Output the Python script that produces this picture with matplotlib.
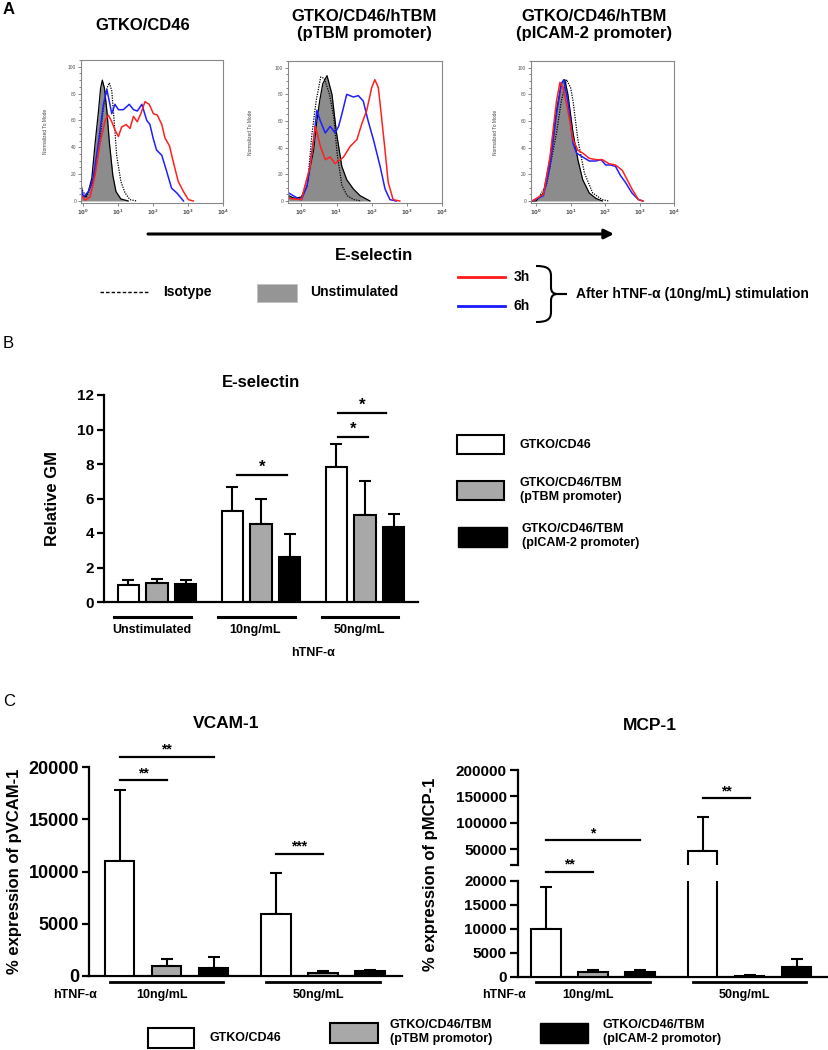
import numpy as np
import matplotlib
matplotlib.use("Agg")
import matplotlib.pyplot as plt
import matplotlib.transforms as mtransforms
from matplotlib.patches import Rectangle, PathPatch
from matplotlib.path import Path
from matplotlib.ticker import AutoMinorLocator

plt.rcParams['font.family'] = ['Liberation Sans', 'DejaVu Sans']
plt.rcParams['font.weight'] = 'bold'
plt.rcParams['axes.labelweight'] = 'bold'

# ---------------- panel A: flow histograms (log10 fluorescence, % of mode) ----------------
h1_unstim_lx = [-0.05, -0.01, 0.07, 0.16, 0.26, 0.35, 0.45, 0.51, 0.56, 0.62, 0.69, 0.76, 0.86, 0.95, 1.09, 1.3]
h1_unstim_y = [14, 4.5, 3, 7, 17, 42, 67, 84, 90, 84, 67, 44, 19, 7, 1.5, 0]
h1_iso_lx = [-0.05, 0.11, 0.3, 0.4, 0.5, 0.59, 0.69, 0.76, 0.83, 0.9, 0.97, 1.09, 1.21, 1.35, 1.54]
h1_iso_y = [9.5, 3, 14.5, 29, 47, 69, 84, 88, 82, 59, 34, 14.5, 6, 1, 0]
h1_6h_lx = [-0.05, 0.02, 0.16, 0.3, 0.45, 0.59, 0.69, 0.76, 0.83, 0.92, 1.02, 1.16, 1.33, 1.45, 1.56,
            1.69, 1.83, 1.92, 2.02, 2.11, 2.26, 2.4, 2.54, 2.69, 2.88]
h1_6h_y = [10.7, 3, 7, 17, 44, 72, 83, 74, 65, 72, 68, 68, 72, 68, 67, 72, 60, 57, 46, 38, 34, 22, 9.5, 6, 0]
h1_3h_lx = [-0.05, 0.07, 0.21, 0.35, 0.5, 0.64, 0.73, 0.83, 0.92, 1.02, 1.11, 1.24, 1.35, 1.45, 1.56, 1.66,
            1.78, 1.9, 2.02, 2.13, 2.26, 2.35, 2.48, 2.59, 2.73, 2.88, 3.02, 3.16]
h1_3h_y = [4.5, 0.5, 3, 19, 44, 60, 64, 59, 53, 48, 55, 57, 54, 63, 59, 65, 74, 72, 65, 64, 57, 47, 41, 29,
           14.5, 7, 1, 0]

h2_unstim_lx = [-0.36, -0.2, 0.0, 0.16, 0.25, 0.35, 0.44, 0.52, 0.61, 0.73, 0.87, 1.0, 1.15, 1.29, 1.48, 1.67, 1.81, 1.95]
h2_unstim_y = [4, 2, 3, 11, 25, 38, 60, 75, 88, 94, 80, 51, 26, 16, 9, 4, 2, 0]
h2_iso_lx = [-0.36, 0.0, 0.2, 0.3, 0.42, 0.55, 0.65, 0.8, 0.92, 1.02, 1.15, 1.3, 1.5, 1.7]
h2_iso_y = [2, 2, 20, 50, 75, 93, 92, 80, 63, 35, 12, 4, 1, 0]
h2_6h_lx = [-0.36, -0.1, 0.0, 0.16, 0.35, 0.44, 0.54, 0.68, 0.82, 0.96, 1.06, 1.15, 1.29, 1.48, 1.62, 1.76,
            1.9, 2.05, 2.24, 2.38, 2.52, 2.7]
h2_6h_y = [6, 2, 1, 11, 46, 68, 60, 51, 56, 51, 56, 65, 80, 78, 79, 75, 60, 46, 26, 9, 1, 0]
h2_3h_lx = [-0.36, 0.0, 0.25, 0.4, 0.54, 0.68, 0.82, 0.96, 1.2, 1.39, 1.58, 1.72, 1.86, 2.0, 2.09, 2.19, 2.28,
            2.38, 2.47, 2.61, 2.8]
h2_3h_y = [2, 1, 26, 56, 41, 31, 33, 28, 33, 41, 46, 58, 68, 85, 91, 85, 63, 38, 14, 1, 0]

h3_unstim_lx = [-0.15, 0.0, 0.21, 0.4, 0.59, 0.73, 0.83, 0.92, 1.07, 1.21, 1.35, 1.54, 1.73, 1.92]
h3_unstim_y = [0, 0, 6, 31, 68, 88, 91, 80, 51, 31, 16, 6, 2, 0]
h3_iso_lx = [0.0, 0.3, 0.59, 0.73, 0.88, 1.0, 1.07, 1.21, 1.4, 1.64, 1.92, 2.1]
h3_iso_y = [0, 12, 51, 75, 91, 85, 75, 46, 21, 6, 1, 0]
h3_6h_lx = [-0.12, 0.21, 0.4, 0.59, 0.73, 0.8, 0.92, 1.07, 1.17, 1.35, 1.54, 1.73, 1.88, 2.02, 2.16, 2.3,
            2.45, 2.59, 2.78, 2.97, 3.1]
h3_6h_y = [0, 4, 26, 65, 88, 91, 75, 43, 36, 33, 30, 30, 31, 27, 27, 26, 19, 14, 6, 1, 0]
h3_3h_lx = [-0.12, 0.21, 0.4, 0.59, 0.69, 0.78, 0.92, 1.07, 1.21, 1.35, 1.54, 1.73, 1.92, 2.11, 2.3, 2.5,
            2.64, 2.78, 2.97, 3.1]
h3_3h_y = [0, 5, 33, 75, 89, 85, 68, 46, 38, 36, 32, 31, 31, 28, 27, 23, 16, 9, 1, 0]

# ---------------- panel B: E-selectin relative GM ----------------
b_groups = ['Unstimulated', '10ng/mL', '50ng/mL']
b_cd46 = [1.0, 5.25, 7.84]
b_cd46_err = [0.29, 1.39, 1.33]
b_ptbm = [1.1, 4.52, 5.02]
b_ptbm_err = [0.23, 1.46, 2.01]
b_picam = [1.04, 2.59, 4.32]
b_picam_err = [0.25, 1.33, 0.78]

# ---------------- panel C: VCAM-1 and MCP-1 ----------------
c_groups = ['10ng/mL', '50ng/mL']
vcam_cd46 = [11000, 5890]
vcam_cd46_err = [6760, 4000]
vcam_ptbm = [930, 290]
vcam_ptbm_err = [730, 160]
vcam_picam = [800, 480]
vcam_picam_err = [1020, 130]

mcp_cd46 = [10000, 45600]
mcp_cd46_err = [8750, 66200]
mcp_ptbm = [1040, 200]
mcp_ptbm_err = [350, 200]
mcp_picam = [1040, 2080]
mcp_picam_err = [350, 1740]

bar_colors = ['white', '#a8a8a8', 'black']

W, H = 829, 1050
fig = plt.figure(figsize=(W / 100, H / 100), dpi=100)


def px_axes(l, t, r, b):
    return fig.add_axes([l / W, 1 - b / H, (r - l) / W, (b - t) / H])


# overlay in pixel coordinates for labels, legends and arrow
ov = fig.add_axes([0, 0, 1, 1])
ov.set_xlim(0, W)
ov.set_ylim(H, 0)
ov.axis('off')


def histo(ax, curves, xlo, xhi):
    (ulx, uy), (ilx, iy), (blx, by), (rlx, ry) = curves
    ux = 10 ** np.array(ulx)
    ax.fill_between(ux, uy, 0, color='#8c8c8c', lw=0)
    ax.plot(ux, uy, color='k', lw=0.9)
    ax.plot(10 ** np.array(ilx), iy, color='k', lw=0.9, ls=(0, (1, 1)))
    ax.plot(10 ** np.array(blx), by, color='#1f1fff', lw=1.1)
    ax.plot(10 ** np.array(rlx), ry, color='#ff2020', lw=1.1)
    ax.set_xscale('log')
    ax.set_xlim(10 ** xlo, 10 ** xhi)
    ax.set_ylim(-1.5, 105)
    ax.set_xticks([1, 10, 100, 1000, 10000],
                  ['$10^0$', '$10^1$', '$10^2$', '$10^3$', '$10^4$'], fontsize=4, fontweight='normal')
    ax.set_yticks([0, 20, 40, 60, 80, 100], ['0', '20', '40', '60', '80', '100'],
                  fontsize=3.5, fontweight='normal')
    ax.yaxis.set_minor_locator(AutoMinorLocator(4))
    ax.tick_params(which='both', direction='out', colors='#555555', width=0.5, pad=1)
    ax.tick_params(which='major', length=2.5)
    ax.tick_params(which='minor', length=1.2)
    for s in ax.spines.values():
        s.set_color('#888888')
        s.set_linewidth(0.8)
    ax.set_ylabel('Normalized To Mode', fontsize=3.5, fontweight='normal', color='#444444')
    ax.yaxis.set_label_coords(-0.23, 0.5)


a1 = px_axes(81, 60, 223, 203)
histo(a1, [(h1_unstim_lx, h1_unstim_y), (h1_iso_lx, h1_iso_y), (h1_6h_lx, h1_6h_y), (h1_3h_lx, h1_3h_y)], -0.05, 4.01)
a2 = px_axes(288, 61, 442, 203)
histo(a2, [(h2_unstim_lx, h2_unstim_y), (h2_iso_lx, h2_iso_y), (h2_6h_lx, h2_6h_y), (h2_3h_lx, h2_3h_y)], -0.38, 3.98)
a3 = px_axes(531, 61, 674, 203)
histo(a3, [(h3_unstim_lx, h3_unstim_y), (h3_iso_lx, h3_iso_y), (h3_6h_lx, h3_6h_y), (h3_3h_lx, h3_3h_y)], -0.15, 3.95)

ov.text(3, 10, 'A', fontsize=12, va='center')
ov.text(143, 25, 'GTKO/CD46', ha='center', va='center', fontsize=12)
ov.text(364, 25, 'GTKO/CD46/hTBM\n(pTBM promoter)', ha='center', va='center', fontsize=12)
ov.text(594, 25, 'GTKO/CD46/hTBM\n(pICAM-2 promoter)', ha='center', va='center', fontsize=12)

ov.annotate('', xy=(614, 234), xytext=(148, 234),
            arrowprops=dict(arrowstyle='-|>', lw=2.2, color='k', mutation_scale=14, shrinkA=0, shrinkB=0))
ov.text(374, 256, 'E-selectin', ha='center', va='center', fontsize=12)

ov.plot([100, 148], [292, 292], color='k', lw=1, ls=(0, (2.5, 1.5)))
ov.text(163, 292, 'Isotype', va='center', fontsize=10)
ov.add_patch(Rectangle((257, 284), 40, 18, facecolor='#959595', edgecolor='#c0c0c0', lw=0.5))
ov.text(310, 292, 'Unstimulated', va='center', fontsize=10)
ov.plot([458, 505], [277, 277], color='#ff1a1a', lw=2)
ov.plot([458, 505], [306, 306], color='#1a1aff', lw=2)
ov.text(514, 277, '3h', va='center', fontsize=10)
ov.text(514, 306, '6h', va='center', fontsize=10)
brace = Path([(536, 266), (546, 266), (551, 268), (551, 276), (551, 287), (551, 292), (553, 294), (558, 294),
              (567, 294), (558, 294), (553, 294), (551, 296), (551, 301), (551, 312), (551, 320), (546, 322),
              (536, 322)],
             [Path.MOVETO, Path.CURVE4, Path.CURVE4, Path.CURVE4, Path.LINETO, Path.CURVE4, Path.CURVE4,
              Path.CURVE4, Path.LINETO, Path.LINETO, Path.CURVE4, Path.CURVE4, Path.CURVE4, Path.LINETO,
              Path.CURVE4, Path.CURVE4, Path.CURVE4])
ov.add_patch(PathPatch(brace, facecolor='none', edgecolor='k', lw=1.5))
ov.text(576, 294, 'After hTNF-\u03b1 (10ng/mL) stimulation', va='center', fontsize=10)


def sig(ax, x1, x2, y, label, fs):
    ax.plot([x1, x2], [y, y], color='k', lw=1.6, clip_on=False)
    ax.annotate(label, xy=((x1 + x2) / 2, y), xytext=(0, 0), textcoords='offset points',
                ha='center', va='bottom', fontsize=fs, annotation_clip=False)


def bar_style(ax, lw):
    ax.spines['top'].set_visible(False)
    ax.spines['right'].set_visible(False)
    ax.spines['left'].set_linewidth(lw)
    ax.spines['bottom'].set_linewidth(lw)
    ax.set_xticks([])
    ax.tick_params(axis='y', direction='out', length=5, width=lw, pad=2)
    ax.patch.set_alpha(0)


# ---------------- panel B ----------------
ov.text(3, 343, 'B', fontsize=12, fontweight='normal', va='center')
ax_b = px_axes(104, 395, 418, 602)
xb = np.arange(3) * 3.62
for k, (vals, errs) in enumerate([(b_cd46, b_cd46_err), (b_ptbm, b_ptbm_err), (b_picam, b_picam_err)]):
    xs = xb + (k - 1)
    ax_b.bar(xs, vals, width=0.74, color=bar_colors[k], edgecolor='k', linewidth=1.5, zorder=3)
    ax_b.errorbar(xs, vals, yerr=[np.zeros(3), errs], fmt='none', ecolor='k', elinewidth=1.5,
                  capsize=4, capthick=1.5, zorder=2)
ax_b.set_xlim(-1.85, 9.09)
ax_b.set_ylim(0, 12)
ax_b.set_yticks(np.arange(0, 13, 2))
bar_style(ax_b, 1.6)
ax_b.tick_params(axis='y', labelsize=11)
ax_b.set_ylabel('Relative GM', fontsize=12)
ax_b.yaxis.set_label_coords(-0.14, 0.5)
ax_b.set_title('E-selectin', fontsize=12, fontweight='bold', pad=6)
tb = mtransforms.blended_transform_factory(ax_b.transData, ax_b.transAxes)
for g, name in enumerate(b_groups):
    ax_b.plot([xb[g] - 1.5, xb[g] + 1.17], [-0.072, -0.072], transform=tb, color='k', lw=2.2, clip_on=False)
    ax_b.text(xb[g] - 0.2, -0.135, name, transform=tb, ha='center', va='center', fontsize=9)
ax_b.text(xb[1] + 1.8, -0.246, 'hTNF-\u03b1', transform=tb, ha='center', va='center', fontsize=9)
sig(ax_b, xb[1] - 0.85, xb[1] + 0.9, 7.36, '*', 12)
sig(ax_b, xb[2] - 0.95, xb[2] + 0.1, 9.57, '*', 12)
sig(ax_b, xb[2] - 0.95, xb[2] + 0.75, 10.98, '*', 12)

ov.add_patch(Rectangle((457, 435), 47, 19, facecolor='white', edgecolor='k', lw=1.5))
ov.add_patch(Rectangle((457, 481), 47, 19, facecolor='#a8a8a8', edgecolor='k', lw=1.5))
ov.add_patch(Rectangle((458, 527), 49, 20, facecolor='k', edgecolor='k', lw=1))
ov.text(520, 445, 'GTKO/CD46', va='center', fontsize=9)
ov.text(520, 490, 'GTKO/CD46/TBM\n(pTBM promoter)', va='center', fontsize=9)
ov.text(522, 536, 'GTKO/CD46/TBM\n(pICAM-2 promoter)', va='center', fontsize=9)

# ---------------- panel C ----------------
ov.text(3, 702, 'C', fontsize=12, fontweight='normal', va='center')
xc = np.arange(2) * 3.33


def c_bars(ax, series, ylow=0):
    for k, (vals, errs) in enumerate(series):
        xs = xc + (k - 1)
        ax.bar(xs, vals, width=0.63, color=bar_colors[k], edgecolor='k', linewidth=1.5, zorder=3)
        vals = np.array(vals)
        errs = np.array(errs)
        show = vals + errs > ylow  # error bar only where its top is inside this axis
        if show.any():
            ax.errorbar(xs[show], vals[show], yerr=[np.zeros(show.sum()), errs[show]], fmt='none',
                        ecolor='k', elinewidth=1.5, capsize=4.5, capthick=1.5, zorder=2)


def c_groups_axis(ax, yline, ytext, xlabel_tnf):
    tr = mtransforms.blended_transform_factory(ax.transData, ax.transAxes)
    for g, name in enumerate(c_groups):
        ax.plot([xc[g] - 1.21, xc[g] + 1.21], [yline, yline], transform=tr, color='k', lw=2, clip_on=False)
        ax.text(xc[g] - 0.1, ytext, name, transform=tr, ha='center', va='center', fontsize=9)
    ax.text(xlabel_tnf, ytext, 'hTNF-\u03b1', transform=tr, ha='center', va='center', fontsize=9)


# VCAM-1
ax_v = px_axes(89, 767, 402, 976)
c_bars(ax_v, [(vcam_cd46, vcam_cd46_err), (vcam_ptbm, vcam_ptbm_err), (vcam_picam, vcam_picam_err)])
ax_v.set_xlim(-1.65, 5.01)
ax_v.set_ylim(0, 20000)
ax_v.set_yticks(np.arange(0, 20001, 5000))
bar_style(ax_v, 1.6)
ax_v.tick_params(axis='y', labelsize=13)
ax_v.set_ylabel('% expression of pVCAM-1', fontsize=12)
ax_v.yaxis.set_label_coords(-0.215, 0.5)
c_groups_axis(ax_v, -0.029, -0.09, -1.95)
sig(ax_v, xc[0] - 1, xc[0], 18720, '**', 10)
sig(ax_v, xc[0] - 1, xc[0] + 1, 21000, '**', 10)
sig(ax_v, xc[1] - 1, xc[1], 11680, '***', 10)
ov.text(226, 723, 'VCAM-1', ha='center', va='center', fontsize=12.5)

# MCP-1 with broken axis
ax_up = px_axes(518, 770, 828, 865)
ax_lo = px_axes(518, 881, 828, 977)
mcp_series = [(mcp_cd46, mcp_cd46_err), (mcp_ptbm, mcp_ptbm_err), (mcp_picam, mcp_picam_err)]
c_bars(ax_up, mcp_series, ylow=20000)
c_bars(ax_lo, mcp_series)
for ax in (ax_up, ax_lo):
    ax.set_xlim(-1.6, 5.0)
    bar_style(ax, 1.6)
    ax.tick_params(axis='y', labelsize=11, length=6)
ax_up.set_ylim(20000, 200000)
ax_up.set_yticks([20000, 50000, 100000, 150000, 200000], ['', '50000', '100000', '150000', '200000'])
ax_up.spines['bottom'].set_visible(False)
ax_lo.set_ylim(0, 20000)
ax_lo.set_yticks(np.arange(0, 20001, 5000))
ax_lo.set_ylabel('% expression of pMCP-1', fontsize=12)
ax_lo.yaxis.set_label_coords(-0.258, 1.07)
c_groups_axis(ax_lo, -0.052, -0.19, -1.9)
sig(ax_lo, xc[0] - 1, xc[0], 21940, '**', 10)
sig(ax_up, xc[0] - 1, xc[0] + 1, 67000, '*', 10)
sig(ax_up, xc[1] - 1, xc[1], 146900, '**', 10)
ov.text(650, 725, 'MCP-1', ha='center', va='center', fontsize=12.5)

ov.add_patch(Rectangle((148, 1028), 46, 20, facecolor='white', edgecolor='k', lw=1.5))
ov.text(210, 1038, 'GTKO/CD46', va='center', fontsize=9)
ov.add_patch(Rectangle((330, 1023), 48, 20, facecolor='#a8a8a8', edgecolor='k', lw=1.5))
ov.text(390, 1032, 'GTKO/CD46/TBM\n(pTBM promotor)', va='center', fontsize=9)
ov.add_patch(Rectangle((540, 1023), 48, 20, facecolor='k', edgecolor='k', lw=1))
ov.text(603, 1032, 'GTKO/CD46/TBM\n(pICAM-2 promotor)', va='center', fontsize=9)

fig.savefig('out.png', dpi=100)
